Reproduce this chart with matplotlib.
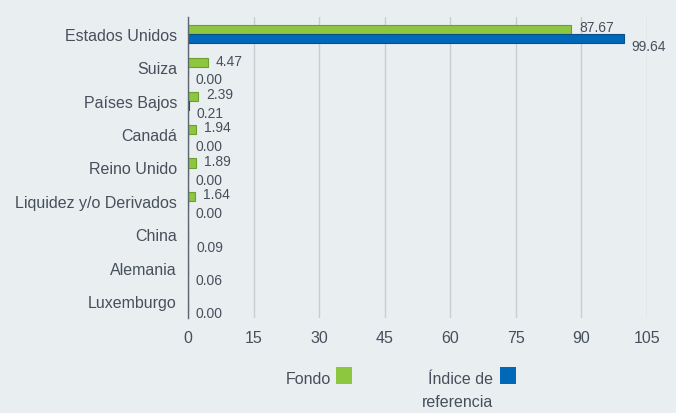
import numpy as np
import matplotlib
matplotlib.use("Agg")
import matplotlib.pyplot as plt
from matplotlib.patches import Rectangle

categories = ["Estados Unidos", "Suiza", "Países Bajos", "Canadá", "Reino Unido",
              "Liquidez y/o Derivados", "China", "Alemania", "Luxemburgo"]
fondo = [87.67, 4.47, 2.39, 1.94, 1.89, 1.64, None, None, None]
indice = [99.64, 0.00, 0.21, 0.00, 0.00, 0.00, 0.09, 0.06, 0.00]
xticks = [0, 15, 30, 45, 60, 75, 90, 105]

BG = "#e9eef1"
TXT = "#46505b"
GREEN = "#8dc63f"
GREEN_EDGE = "#6e9e2e"
BLUE = "#0068b8"
BLUE_EDGE = "#0a4f8a"

plt.rcParams["font.family"] = ["Liberation Sans", "DejaVu Sans"]

fig = plt.figure(figsize=(6.76, 4.14), dpi=100, facecolor=BG)
ax = fig.add_axes([188 / 676, 1 - 319 / 414, (647 - 188) / 676, (319 - 18) / 414])
ax.set_facecolor(BG)

y = np.arange(len(categories))
h = 0.27
f_vals = [v if v is not None else 0 for v in fondo]
ax.barh(y - h / 2, f_vals, height=h, color=GREEN, edgecolor=GREEN_EDGE, linewidth=0.8, zorder=3)
ax.barh(y + h / 2, indice, height=h, color=BLUE, edgecolor=BLUE_EDGE, linewidth=0.8, zorder=3)

for i, v in enumerate(fondo):
    if v is None:
        continue
    ax.annotate(f"{v:.2f}", (v, i - h / 2), xytext=(5.5, 1.5), textcoords="offset points",
                ha="left", va="center", fontsize=10, color=TXT)
for i, v in enumerate(indice):
    ax.annotate(f"{v:.2f}", (v, i + h / 2), xytext=(5.5, -5.5), textcoords="offset points",
                ha="left", va="center", fontsize=10, color=TXT)

ax.set_xlim(0, 105)
ax.set_ylim(len(categories) - 0.5, -0.5)
ax.set_xticks(xticks)
ax.set_yticks(y)
ax.set_yticklabels(categories)
ax.tick_params(axis="x", length=0, pad=9, labelsize=11.5, labelcolor=TXT)
ax.tick_params(axis="y", length=0, pad=8, labelsize=11.5, labelcolor=TXT)
ax.grid(axis="x", color="#c9cdd1", linewidth=1, zorder=0)
for side in ["top", "right", "bottom"]:
    ax.spines[side].set_visible(False)
ax.spines["left"].set_color("#5b6670")
ax.spines["left"].set_linewidth(1)
ax.spines["left"].set_zorder(4)

# legend drawn below the plot
W, H = 676, 414
fig.text(331 / W, 1 - 380 / H, "Fondo", ha="right", va="center", fontsize=11.5, color=TXT)
fig.patches.append(Rectangle((336 / W, 1 - 385 / H), 16 / W, 17 / H, transform=fig.transFigure,
                             facecolor=GREEN, edgecolor="none"))
fig.text(493 / W, 1 - 380 / H, "Índice de", ha="right", va="center", fontsize=11.5, color=TXT)
fig.text(493 / W, 1 - 403 / H, "referencia", ha="right", va="center", fontsize=11.5, color=TXT)
fig.patches.append(Rectangle((500 / W, 1 - 385 / H), 16 / W, 17 / H, transform=fig.transFigure,
                             facecolor=BLUE, edgecolor="none"))

fig.savefig("out.png", dpi=100, facecolor=BG)
